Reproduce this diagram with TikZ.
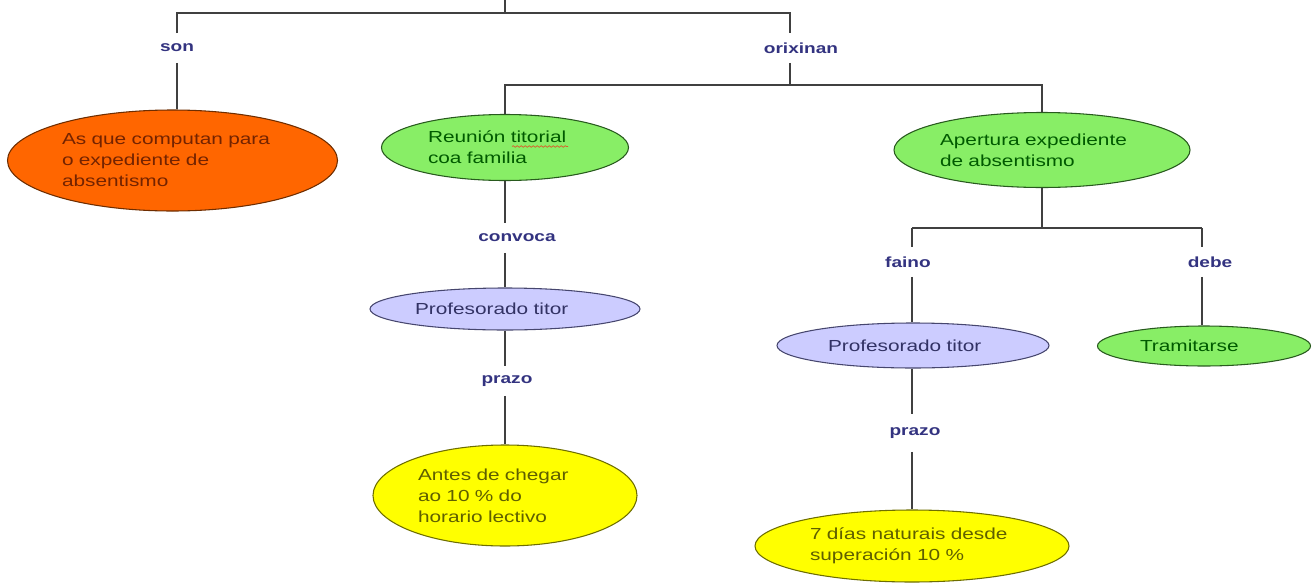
\documentclass[tikz,border=0pt]{standalone}
\usepackage{fontspec}
\setmainfont{Liberation Sans}[FakeStretch=1.3]
\usetikzlibrary{shapes.geometric,decorations.pathmorphing}
\definecolor{linec}{RGB}{64,64,64}
\definecolor{labc}{RGB}{51,51,128}
\definecolor{orfill}{RGB}{255,102,0}
\definecolor{ordraw}{RGB}{110,45,0}
\definecolor{ortext}{RGB}{115,35,0}
\definecolor{grfill}{RGB}{136,238,102}
\definecolor{grdraw}{RGB}{40,90,30}
\definecolor{grtext}{RGB}{0,90,0}
\definecolor{lvfill}{RGB}{204,204,255}
\definecolor{lvdraw}{RGB}{70,70,110}
\definecolor{lvtext}{RGB}{50,50,100}
\definecolor{ylfill}{RGB}{255,255,0}
\definecolor{yldraw}{RGB}{110,110,0}
\definecolor{yltext}{RGB}{95,95,0}
\definecolor{spell}{RGB}{220,90,40}
\begin{document}
\begin{tikzpicture}[x=0.75pt,y=-0.75pt,
  font=\fontsize{12pt}{15.75pt}\selectfont,
  conn/.style={draw=linec, line width=0.9pt},
  lbl/.style={font=\fontsize{11pt}{13pt}\selectfont\bfseries, text=labc, fill=white, inner sep=1pt, minimum height=22pt},
  concept/.style={ellipse, line width=0.8pt, inner sep=0pt, align=left},
  orangec/.style={concept, fill=orfill, draw=ordraw, text=ortext},
  greenc/.style={concept, fill=grfill, draw=grdraw, text=grtext},
  lavc/.style={concept, fill=lvfill, draw=lvdraw, text=lvtext},
  yelc/.style={concept, fill=ylfill, draw=yldraw, text=yltext}]
\useasboundingbox (0,0) rectangle (1315,586);

% coordinates
\coordinate (top) at (505,0);
\coordinate (j0) at (505,13);
\coordinate (oa) at (790,13);
\coordinate (ob) at (790,85);
\coordinate (j3) at (1042,228);
\coordinate (fa) at (912,228);
\coordinate (db) at (1202,228);

% labels
\node[lbl] (son) at (177,48) {son};
\node[lbl] (orix) at (801,48) {orixinan};
\node[lbl] (conv) at (517,238) {convoca};
\node[lbl] (praz1) at (507,381) {prazo};
\node[lbl] (faino) at (908,262) {faino};
\node[lbl] (debe) at (1210,262) {debe};
\node[lbl, minimum height=28pt] (praz2) at (915,433) {prazo};

% concepts
\node[orangec, minimum width=247.5pt, minimum height=75.75pt, text width=165.75pt] (orange) at (172.5,160.5)
  {As que computan para\\o expediente de\\absentismo};
\node[greenc, minimum width=185.25pt, minimum height=49.5pt, text width=115.5pt] (reu) at (505,147.5)
  {Reunión titorial\\coa familia};
\node[greenc, minimum width=222pt, minimum height=56.25pt, text width=153pt] (apert) at (1042,150)
  {Apertura expediente\\de absentismo};
\node[lavc, minimum width=202.5pt, minimum height=31.5pt, text width=135pt] (prof1) at (505,309)
  {Profesorado titor};
\node[yelc, minimum width=198pt, minimum height=75.75pt, text width=130.5pt] (ant) at (505,495.5)
  {Antes de chegar\\ao 10 \% do\\horario lectivo};
\node[lavc, minimum width=204pt, minimum height=33.75pt, text width=127.5pt] (prof2) at (913,345.5)
  {Profesorado titor};
\node[greenc, minimum width=159.75pt, minimum height=30pt, text width=96pt] (tram) at (1204,346)
  {Tramitarse};
\node[yelc, minimum width=235.5pt, minimum height=54pt, text width=153pt] (siete) at (912,546)
  {7 días naturais desde\\superación 10 \%};

% spell-check underline
\draw[spell, line width=0.5pt, decorate, decoration={snake, amplitude=0.6pt, segment length=3pt}]
  (512,146.5) -- (568,146.5);

% connectors
\draw[conn] (top) -- (j0);
\draw[conn] (son.north) |- (j0) -- (oa) -- (oa |- orix.north);
\draw[conn] (oa |- orix.south) -- (ob);
\draw[conn] (son.south) -- (son.south |- orange.north);
\draw[conn] (reu.north) |- (ob) -| (apert.north);
\draw[conn] (reu.south) -- (reu.south |- conv.north);
\draw[conn] (reu.south |- conv.south) -- (reu.south |- prof1.north);
\draw[conn] (prof1.south) -- (prof1.south |- praz1.north);
\draw[conn] (prof1.south |- praz1.south) -- (prof1.south |- ant.north);
\draw[conn] (apert.south) -- (j3);
\draw[conn] (fa) -- (db);
\draw[conn] (fa) -- (fa |- faino.north);
\draw[conn] (fa |- faino.south) -- (fa |- prof2.north);
\draw[conn] (db) -- (db |- debe.north);
\draw[conn] (db |- debe.south) -- (db |- tram.north);
\draw[conn] (fa |- prof2.south) -- (fa |- praz2.north);
\draw[conn] (fa |- praz2.south) -- (fa |- siete.north);
\end{tikzpicture}
\end{document}
